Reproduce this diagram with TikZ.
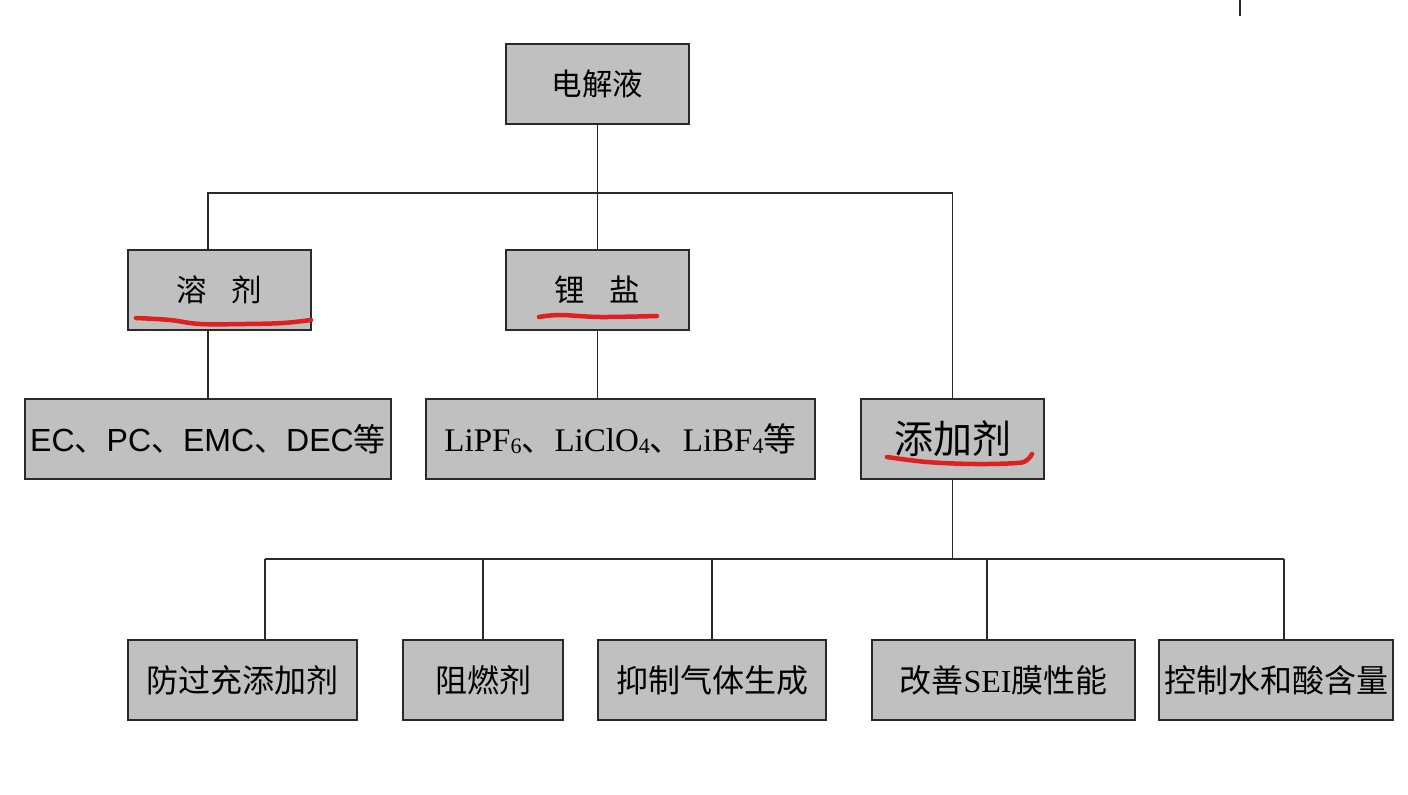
\documentclass[tikz,border=0pt]{standalone}
\usepackage{fontspec}
\newfontfamily\cjk{Noto Sans CJK SC}
\newfontfamily\arialf{Liberation Sans}
\newfontfamily\tnr{Liberation Serif}
\definecolor{boxgray}{HTML}{C0C0C0}
\definecolor{edge}{HTML}{2A2A2A}
\definecolor{mark}{HTML}{E02020}
\newcommand{\lo}[1]{\raisebox{-1.5pt}{\fontsize{22}{24}\selectfont #1}}
\begin{document}
\begin{tikzpicture}[x=1pt,y=-1pt,
  gbox/.style={draw=edge,fill=boxgray,line width=1.3pt,inner sep=0pt,
    minimum height=80pt,font=\fontsize{30.5}{34}\selectfont\cjk},
  bbox/.style={gbox,font=\fontsize{32}{34}\selectfont\cjk},
  conn/.style={draw=edge,line width=1.3pt},
  redline/.style={draw=mark,line width=4.5pt,line cap=round,line join=round}]
\useasboundingbox (0,0) rectangle (1408,795);
\node[gbox,minimum width=183pt] (root) at (597.5,84) {电解液};
\node[gbox,minimum width=183pt] (solv) at (219.5,290) {溶\hspace{25pt}剂};
\node[gbox,minimum width=183pt] (salt) at (597.5,290) {锂\hspace{25pt}盐};
\node[gbox,minimum width=366pt,font=\fontsize{32}{34}\selectfont\arialf] (ec) at (208,439)
  {EC{\cjk 、}PC{\cjk 、}EMC{\cjk 、}DEC{\cjk 等}};
\node[gbox,minimum width=389pt,font=\fontsize{33}{34}\selectfont\tnr] (lip) at (620.5,439)
  {LiPF\lo{6}{\cjk 、}LiClO\lo{4}{\cjk 、}LiBF\lo{4}{\cjk 等}};
\node[gbox,minimum width=183pt,font=\fontsize{39}{42}\selectfont\cjk] (add) at (952.5,439) {添加剂};
\node[bbox,minimum width=229pt] (b1) at (242.5,680) {防过充添加剂};
\node[bbox,minimum width=160pt] (b2) at (483,680) {阻燃剂};
\node[bbox,minimum width=228pt] (b3) at (712,680) {抑制气体生成};
\node[bbox,minimum width=263pt] (b4) at (1003.5,680) {改善{\tnr SEI}膜性能};
\node[bbox,minimum width=234pt] (b5) at (1276,680) {控制水和酸含量};
% junctions
\coordinate (j1) at (597.5,193);
\coordinate (j2) at (952.5,559);
\coordinate (k1) at (265,559);
\coordinate (k2) at (483,559);
\coordinate (k3) at (712,559);
\coordinate (k4) at (987,559);
\coordinate (k5) at (1284,559);
% upper tree
\draw[conn] (root.south) -- (j1);
\draw[conn] (ec.north |- solv.north) |- (j1) -| (add.north);
\draw[conn] (j1) -- (salt.north);
\draw[conn] (ec.north |- solv.south) -- (ec.north);
\draw[conn] (salt.south) -- (salt.south |- lip.north);
% lower tree
\draw[conn] (add.south) -- (j2);
\draw[conn] (k1) -- (k5);
\draw[conn] (k1) -- (k1 |- b1.north);
\draw[conn] (k2) -- (b2.north);
\draw[conn] (k3) -- (b3.north);
\draw[conn] (k4) -- (k4 |- b4.north);
\draw[conn] (k5) -- (k5 |- b5.north);
% stray tick top right
\draw[conn] (1240,0) -- (1240,16);
% red underlines
\draw[redline] plot[smooth,tension=0.6] coordinates {(136,318) (170,320) (200,324) (245,324) (283,323) (311,320)};
\draw[redline] plot[smooth,tension=0.6] coordinates {(539,317) (560,315) (600,317) (657,316)};
\draw[redline] plot[smooth,tension=0.6] coordinates {(887,457) (927,462) (975,464) (1017,463) (1027,460) (1032,454)};
\end{tikzpicture}
\end{document}
